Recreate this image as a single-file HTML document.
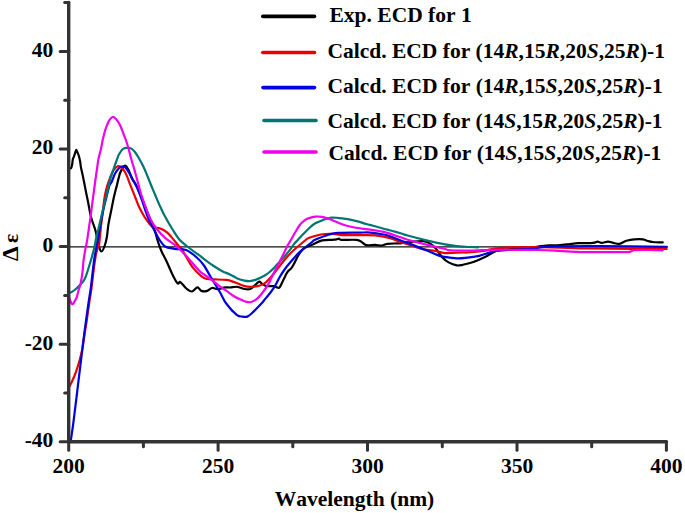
<!DOCTYPE html>
<html><head><meta charset="utf-8"><style>
html,body{margin:0;padding:0;background:#fff;width:685px;height:513px;overflow:hidden}
svg{display:block}
text{font-family:"Liberation Serif",serif;font-weight:bold;font-size:21.5px;fill:#000;font-kerning:none}
</style></head><body>
<svg width="685" height="513" viewBox="0 0 685 513">
<rect width="685" height="513" fill="#fff"/>
<line x1="68.7" y1="246.8" x2="668" y2="246.8" stroke="#111" stroke-width="1.2"/>
<g fill="none" stroke-width="2.2" stroke-linejoin="round" stroke-linecap="round">
<path d="M68.7,167.7 C69.1,167.8 70.4,168.9 71.0,168.3 C71.6,167.7 71.9,165.7 72.2,164.2 C72.5,162.7 72.5,160.8 72.8,159.5 C73.1,158.2 73.5,157.7 73.9,156.6 C74.3,155.5 74.7,154.2 75.1,153.1 C75.5,152.0 75.8,149.7 76.3,149.8 C76.8,149.9 77.5,152.5 78.0,153.7 C78.5,154.9 78.9,155.9 79.2,157.2 C79.5,158.5 79.8,159.7 80.1,161.3 C80.4,162.9 80.5,164.9 80.8,166.6 C81.1,168.2 81.3,169.0 81.8,171.2 C82.3,173.4 82.9,176.1 83.6,179.7 C84.3,183.3 85.5,189.3 86.2,193.0 C86.9,196.7 87.2,197.6 88.0,201.7 C88.8,205.8 89.9,212.8 91.1,217.3 C92.3,221.9 94.1,226.2 95.0,229.0 C95.9,231.8 95.7,231.2 96.3,234.0 C96.9,236.8 97.9,243.1 98.8,246.0 C99.7,248.9 100.5,251.5 101.5,251.5 C102.5,251.5 103.7,248.5 104.6,246.0 C105.5,243.5 106.3,240.2 106.9,236.7 C107.5,233.2 107.8,228.3 108.3,225.1 C108.8,221.9 109.3,219.9 109.8,217.3 C110.3,214.7 110.8,212.7 111.4,209.5 C112.1,206.3 113.0,201.2 113.7,198.0 C114.4,194.8 115.0,192.6 115.5,190.5 C116.0,188.4 116.3,187.8 116.8,185.7 C117.3,183.6 118.0,180.4 118.7,177.9 C119.4,175.4 119.9,172.9 121.0,170.9 C122.1,168.9 123.9,165.9 125.1,165.7 C126.3,165.5 127.1,167.5 128.3,169.6 C129.5,171.7 130.8,175.7 132.2,178.5 C133.6,181.3 135.2,183.1 136.8,186.5 C138.5,189.9 140.3,194.6 142.1,198.9 C143.9,203.2 145.4,207.3 147.5,212.5 C149.6,217.7 152.8,225.1 154.6,230.0 C156.3,234.9 156.8,238.2 158.0,241.8 C159.2,245.4 160.3,248.5 161.7,251.7 C163.1,254.9 164.7,257.3 166.4,261.0 C168.2,264.7 170.3,270.2 172.2,273.9 C174.0,277.6 176.1,281.9 177.5,283.3 C178.9,284.7 178.9,281.2 180.4,282.1 C181.9,283.0 184.4,286.9 186.3,288.5 C188.2,290.1 190.2,291.7 192.1,291.5 C193.9,291.3 195.8,287.5 197.4,287.4 C199.0,287.3 199.8,290.3 201.5,290.9 C203.2,291.5 205.6,291.4 207.3,290.9 C209.1,290.4 210.2,288.3 212.0,288.0 C213.8,287.7 215.7,289.2 217.8,289.1 C220.0,289.0 222.9,287.7 224.9,287.4 C226.9,287.1 227.9,287.6 230.0,287.5 C232.1,287.4 234.9,286.6 237.3,286.8 C239.7,287.1 242.4,288.6 244.6,289.0 C246.8,289.4 248.7,289.6 250.4,289.0 C252.1,288.4 253.3,286.6 254.8,285.4 C256.3,284.2 258.0,281.9 259.2,281.7 C260.4,281.4 260.9,283.2 262.1,283.9 C263.3,284.6 264.6,285.7 266.5,286.1 C268.4,286.5 272.0,285.9 273.8,286.1 C275.6,286.3 276.4,287.3 277.4,287.5 C278.4,287.7 278.7,288.6 279.6,287.4 C280.6,286.2 281.8,283.0 283.1,280.5 C284.4,278.0 285.9,274.4 287.2,272.4 C288.5,270.4 290.0,269.9 291.2,268.4 C292.4,266.9 293.3,265.2 294.3,263.3 C295.3,261.4 296.3,259.1 297.3,257.2 C298.3,255.3 299.2,253.7 300.4,252.2 C301.6,250.7 302.3,249.4 304.4,248.1 C306.4,246.8 309.8,245.7 312.7,244.4 C315.6,243.1 318.8,241.2 322.1,240.4 C325.4,239.6 330.2,240.0 332.6,239.8 C335.0,239.6 335.3,239.6 336.4,239.4 C337.5,239.2 338.1,238.5 339.0,238.6 C339.9,238.7 338.7,239.7 341.6,239.9 C344.5,240.1 353.1,239.5 356.5,239.9 C359.9,240.3 360.2,241.2 361.8,242.1 C363.4,243.0 364.0,244.6 366.2,245.1 C368.4,245.6 372.4,244.8 375.0,244.9 C377.6,245.0 379.9,245.7 382.0,245.5 C384.1,245.3 384.4,244.2 387.3,243.8 C390.2,243.4 395.7,243.6 399.5,243.3 C403.3,243.0 405.9,242.4 410.0,242.0 C414.1,241.6 420.5,240.7 424.0,241.1 C427.5,241.5 429.1,243.0 431.0,244.2 C432.9,245.4 433.8,246.2 435.7,248.4 C437.6,250.7 440.5,255.4 442.7,257.7 C444.9,260.0 446.2,261.1 448.6,262.4 C451.0,263.7 454.5,265.0 456.8,265.4 C459.1,265.8 459.8,265.4 462.6,264.8 C465.4,264.2 469.7,263.3 473.4,262.0 C477.1,260.7 481.1,258.9 485.0,257.0 C488.9,255.1 492.8,251.9 496.7,250.6 C500.6,249.3 503.9,249.8 508.4,249.4 C512.9,249.0 519.0,248.8 523.8,248.4 C528.6,248.0 532.8,247.3 537.0,246.8 C541.2,246.3 545.8,245.6 549.2,245.3 C552.6,245.1 554.1,245.5 557.4,245.3 C560.7,245.1 565.5,244.5 569.0,244.2 C572.5,243.8 574.4,243.4 578.4,243.2 C582.4,243.0 589.9,243.2 593.1,242.9 C596.3,242.6 596.0,241.6 597.5,241.6 C599.0,241.6 600.1,242.9 601.9,242.9 C603.6,242.9 606.1,241.6 608.0,241.6 C609.9,241.6 611.4,242.5 613.3,242.9 C615.2,243.3 617.2,244.2 619.4,243.9 C621.6,243.6 623.9,241.6 626.4,240.8 C628.9,240.1 631.5,239.6 634.3,239.4 C637.1,239.2 640.7,239.1 643.0,239.4 C645.3,239.7 646.7,240.7 648.3,241.1 C649.9,241.5 650.3,241.8 652.7,242.0 C655.1,242.2 661.0,242.3 662.7,242.4" stroke="#000000"/>
<path d="M68.8,387.5 C69.3,386.5 70.8,384.0 72.0,381.5 C73.2,379.0 74.5,376.1 75.7,372.7 C76.9,369.3 78.3,364.9 79.4,361.0 C80.5,357.1 81.5,353.5 82.3,349.3 C83.1,345.1 83.5,340.9 84.3,336.0 C85.0,331.1 86.0,325.5 86.8,320.0 C87.6,314.5 88.4,308.3 89.2,303.0 C90.0,297.7 90.7,293.7 91.5,288.0 C92.3,282.3 93.1,274.2 93.8,269.0 C94.5,263.8 94.9,260.3 95.5,257.0 C96.1,253.7 96.7,251.1 97.3,249.0 C97.9,246.9 98.5,248.5 99.1,244.5 C99.7,240.5 100.4,230.8 101.1,225.0 C101.8,219.2 102.4,214.7 103.0,210.0 C103.6,205.3 104.0,200.5 104.7,196.6 C105.4,192.7 106.1,189.6 107.0,186.5 C107.9,183.4 109.0,180.6 110.0,178.0 C111.0,175.4 112.3,172.5 113.2,170.8 C114.1,169.1 114.8,168.4 115.6,167.6 C116.4,166.8 117.2,166.4 117.9,166.2 C118.6,166.0 118.9,165.7 120.0,166.5 C121.1,167.3 123.2,169.4 124.4,171.2 C125.7,173.0 126.6,175.4 127.5,177.4 C128.4,179.4 128.5,180.5 129.7,183.4 C130.8,186.3 132.8,191.2 134.4,195.1 C136.0,199.0 137.2,203.1 139.0,206.8 C140.8,210.5 142.7,214.1 144.9,217.5 C147.2,220.9 150.0,225.2 152.5,227.0 C155.0,228.8 157.4,227.3 159.8,228.2 C162.2,229.1 164.7,230.5 167.0,232.4 C169.3,234.3 171.4,237.1 173.4,239.4 C175.4,241.8 177.7,244.9 179.1,246.5 C180.5,248.1 180.0,246.4 181.6,248.8 C183.2,251.2 186.6,257.8 188.6,261.0 C190.6,264.2 191.2,265.6 193.3,268.1 C195.5,270.7 199.3,274.5 201.5,276.3 C203.7,278.1 204.5,278.5 206.7,279.0 C208.9,279.5 211.2,279.3 214.5,279.4 C217.8,279.5 223.6,279.6 226.2,279.8 C228.8,280.0 228.2,280.0 230.0,280.6 C231.8,281.2 234.9,282.3 237.3,283.2 C239.7,284.1 242.4,285.5 244.6,286.1 C246.8,286.7 248.2,286.8 250.4,286.8 C252.6,286.8 255.5,286.6 257.7,286.1 C259.9,285.6 261.9,284.9 263.6,283.9 C265.3,282.9 266.3,281.9 268.0,280.2 C269.7,278.5 271.8,276.1 273.8,273.7 C275.8,271.2 277.9,268.3 280.1,265.5 C282.3,262.7 284.7,259.6 287.2,256.8 C289.7,254.0 292.4,251.4 295.3,248.8 C298.2,246.2 302.1,242.8 304.4,241.0 C306.7,239.2 306.4,238.9 309.2,237.8 C311.9,236.7 317.0,235.2 320.9,234.5 C324.8,233.8 329.0,233.8 332.6,233.9 C336.2,234.0 338.2,234.9 342.5,235.1 C346.8,235.3 352.9,235.1 358.3,235.1 C363.7,235.1 369.7,234.8 375.0,235.3 C380.3,235.8 385.7,236.9 390.1,238.1 C394.5,239.3 398.4,241.5 401.3,242.5 C404.2,243.5 403.8,243.0 407.6,244.2 C411.4,245.3 419.4,248.3 424.0,249.4 C428.6,250.5 431.5,250.2 435.0,250.8 C438.5,251.4 440.5,252.8 445.1,253.1 C449.7,253.4 458.9,252.6 462.6,252.5 C466.3,252.4 463.8,252.7 467.5,252.4 C471.2,252.1 480.5,251.2 485.0,250.6 C489.5,250.0 490.1,249.1 494.6,248.6 C499.1,248.1 503.9,247.6 512.0,247.3 C520.1,247.1 533.3,247.0 543.0,247.1 C552.7,247.2 562.9,247.8 570.0,248.0 C577.1,248.2 574.9,248.4 585.4,248.5 C595.9,248.6 619.2,248.7 632.8,248.8 C646.3,248.9 661.1,249.0 666.7,249.0" stroke="#e80000"/>
<path d="M70.6,442.0 C71.0,439.0 72.2,431.8 73.2,424.0 C74.2,416.2 75.9,402.3 76.8,395.0 C77.7,387.7 77.8,386.2 78.6,380.0 C79.3,373.8 80.5,364.8 81.3,358.0 C82.1,351.2 82.8,345.3 83.6,339.0 C84.4,332.7 85.3,326.0 86.1,320.0 C86.9,314.0 87.7,308.3 88.5,303.0 C89.3,297.7 90.0,293.7 90.8,288.0 C91.5,282.3 92.4,274.2 93.0,269.0 C93.6,263.8 94.0,260.7 94.6,257.0 C95.2,253.3 95.8,250.2 96.4,246.8 C97.0,243.4 97.8,240.3 98.4,236.7 C99.1,233.1 99.5,229.4 100.3,225.0 C101.1,220.6 102.3,214.7 103.3,210.0 C104.3,205.3 105.5,201.1 106.5,197.0 C107.5,192.9 108.5,188.2 109.4,185.7 C110.3,183.2 110.8,183.8 111.7,181.8 C112.6,179.9 113.8,176.1 114.8,174.0 C115.8,171.9 116.9,170.6 117.9,169.4 C118.9,168.2 119.8,167.0 121.0,166.7 C122.2,166.3 123.8,166.3 125.1,167.3 C126.4,168.3 127.8,170.8 129.0,172.7 C130.2,174.6 130.9,176.6 132.2,179.0 C133.5,181.4 135.2,183.6 136.7,186.9 C138.2,190.2 140.0,194.9 141.4,198.6 C142.8,202.3 143.7,205.8 144.9,209.1 C146.1,212.4 146.8,215.0 148.4,218.5 C150.0,222.0 152.5,226.7 154.3,230.2 C156.1,233.7 157.4,236.7 159.2,239.4 C161.0,242.1 162.6,244.9 165.1,246.5 C167.6,248.1 170.9,248.2 174.4,248.8 C177.9,249.4 182.4,248.6 186.1,250.0 C189.8,251.4 193.9,255.0 196.8,257.5 C199.7,260.0 201.3,261.8 203.6,265.0 C205.9,268.2 208.6,273.4 210.6,276.7 C212.6,279.9 213.7,281.9 215.3,284.5 C216.9,287.1 218.2,289.1 220.0,292.3 C221.8,295.5 223.4,299.7 226.2,303.5 C229.0,307.3 234.0,312.7 236.7,314.9 C239.4,317.1 240.8,316.3 242.5,316.6 C244.2,316.9 245.7,317.1 247.2,316.6 C248.7,316.1 249.0,315.9 251.3,313.8 C253.6,311.7 258.9,306.2 261.2,303.8 C263.5,301.4 263.4,301.1 265.0,299.1 C266.6,297.1 269.2,294.3 270.9,292.0 C272.6,289.7 273.9,287.9 275.3,285.5 C276.8,283.1 278.1,279.9 279.6,277.3 C281.1,274.7 282.3,272.7 284.2,270.0 C286.1,267.3 288.8,264.1 291.2,261.3 C293.6,258.5 296.0,255.7 298.3,253.4 C300.6,251.1 302.7,249.4 305.0,247.5 C307.3,245.6 310.3,243.3 312.0,242.0 C313.7,240.7 312.2,241.1 315.1,239.8 C318.0,238.6 325.3,235.7 329.1,234.5 C332.9,233.3 333.0,233.2 338.1,232.9 C343.2,232.6 354.6,232.7 360.0,232.6 C365.4,232.5 366.6,232.3 370.6,232.6 C374.6,232.9 380.6,233.9 383.8,234.5 C387.1,235.1 387.2,235.3 390.1,236.3 C393.0,237.3 398.4,239.6 401.3,240.7 C404.2,241.8 403.2,241.2 407.6,242.9 C412.0,244.6 422.9,249.0 427.5,250.8 C432.1,252.7 432.5,253.0 435.0,254.0 C437.5,255.0 439.1,255.9 442.7,256.6 C446.3,257.3 452.7,258.1 456.8,258.3 C460.9,258.5 463.8,258.0 467.5,257.6 C471.2,257.2 474.7,257.0 479.2,255.9 C483.7,254.8 489.5,252.2 494.4,251.2 C499.3,250.2 502.8,250.3 508.4,250.0 C514.0,249.7 521.5,249.8 528.3,249.2 C535.1,248.6 537.2,247.1 549.2,246.6 C561.2,246.1 580.4,246.2 600.0,246.2 C619.6,246.2 655.6,246.7 666.7,246.8" stroke="#0000e0"/>
<path d="M69.4,293.0 C70.2,292.6 72.3,291.8 74.0,290.5 C75.7,289.2 77.7,287.5 79.5,285.5 C81.3,283.5 83.3,282.1 85.0,278.5 C86.7,274.9 88.6,267.7 89.8,264.0 C91.0,260.3 91.3,259.1 92.1,256.2 C92.9,253.3 93.8,250.1 94.5,246.8 C95.2,243.6 95.8,239.5 96.4,236.7 C97.0,233.9 97.5,232.2 98.1,230.0 C98.6,227.8 98.8,227.3 99.7,223.5 C100.6,219.7 102.6,211.2 103.6,207.1 C104.6,203.0 104.8,201.9 105.5,199.0 C106.2,196.1 107.0,192.8 107.8,189.6 C108.6,186.3 109.2,182.8 110.1,179.5 C111.0,176.2 112.1,173.3 113.2,170.1 C114.3,166.8 115.8,162.6 116.8,160.0 C117.8,157.4 117.9,156.3 118.9,154.5 C119.9,152.7 121.5,150.1 122.8,149.0 C124.1,147.9 125.3,147.9 126.7,147.8 C128.1,147.7 130.0,147.8 131.4,148.6 C132.8,149.4 134.0,150.8 135.3,152.5 C136.6,154.2 137.9,156.4 139.2,158.7 C140.5,160.9 141.8,163.3 143.1,166.0 C144.4,168.7 145.7,171.9 147.0,175.0 C148.3,178.1 149.5,181.2 150.8,184.5 C152.1,187.8 153.6,191.2 155.0,194.5 C156.4,197.8 157.4,200.5 159.0,204.0 C160.6,207.5 162.3,211.4 164.5,215.5 C166.7,219.6 169.5,224.5 172.0,228.5 C174.5,232.5 176.8,236.5 179.3,239.5 C181.9,242.5 184.0,243.9 187.3,246.5 C190.6,249.1 194.9,252.1 199.1,255.2 C203.2,258.3 208.3,262.3 212.2,265.0 C216.1,267.7 219.3,269.6 222.3,271.2 C225.3,272.8 227.5,273.2 230.0,274.4 C232.5,275.6 234.9,277.4 237.3,278.4 C239.7,279.4 242.5,280.2 244.6,280.6 C246.7,281.1 247.9,281.2 249.7,281.1 C251.5,281.0 253.6,280.5 255.5,279.9 C257.4,279.3 259.6,278.2 261.4,277.3 C263.2,276.4 264.9,275.5 266.5,274.4 C268.1,273.3 269.4,272.1 270.9,270.8 C272.4,269.5 274.0,267.8 275.3,266.4 C276.6,265.0 277.4,264.3 278.9,262.7 C280.4,261.1 282.7,258.6 284.4,256.6 C286.1,254.6 287.7,252.8 289.3,250.7 C290.9,248.6 292.8,245.7 294.2,243.9 C295.6,242.1 296.2,241.7 297.8,240.0 C299.4,238.3 301.8,235.6 303.8,233.5 C305.8,231.4 307.7,229.4 309.6,227.7 C311.5,226.0 313.3,224.5 315.4,223.3 C317.5,222.1 320.3,221.1 322.0,220.4 C323.7,219.7 324.1,219.5 325.7,219.0 C327.3,218.5 329.6,217.8 331.5,217.6 C333.4,217.4 335.1,217.6 337.3,217.8 C339.6,218.0 343.2,218.6 345.0,218.8 C346.8,219.0 345.8,218.8 347.9,219.2 C350.0,219.6 354.4,220.6 357.5,221.4 C360.6,222.2 363.4,223.2 366.3,224.0 C369.2,224.8 372.1,225.4 375.0,226.2 C377.9,227.0 380.9,228.0 383.8,228.8 C386.7,229.6 389.6,230.2 392.5,231.0 C395.4,231.8 398.8,232.8 401.3,233.5 C403.8,234.2 403.2,234.3 407.6,235.5 C412.0,236.7 421.2,239.1 427.5,240.6 C433.8,242.1 440.2,243.4 445.1,244.3 C450.0,245.2 452.9,245.7 456.8,246.1 C460.7,246.5 465.0,246.8 468.5,247.0 C472.0,247.2 476.4,247.2 478.0,247.3" stroke="#007672"/>
<path d="M68.8,294.7 C69.0,295.6 69.3,298.4 69.9,300.0 C70.5,301.6 71.8,304.1 72.6,304.3 C73.4,304.5 74.0,302.3 74.7,301.1 C75.4,299.9 76.3,298.7 76.9,296.9 C77.5,295.1 77.9,292.7 78.5,290.5 C79.1,288.3 79.9,286.8 80.6,283.7 C81.3,280.6 82.0,275.9 82.5,272.0 C83.0,268.1 83.1,264.0 83.6,260.1 C84.1,256.2 84.9,251.7 85.5,248.4 C86.1,245.2 86.5,244.3 87.1,240.6 C87.7,236.9 88.7,229.6 89.2,226.0 C89.7,222.4 89.9,221.8 90.3,219.0 C90.7,216.2 91.1,212.7 91.5,209.5 C91.9,206.3 92.2,203.5 92.7,200.1 C93.2,196.7 93.7,193.0 94.2,189.0 C94.7,185.0 95.4,179.9 95.9,176.3 C96.4,172.7 96.8,170.4 97.2,167.5 C97.6,164.6 97.9,161.7 98.5,158.8 C99.1,155.9 100.0,153.1 100.7,150.0 C101.4,146.9 102.2,142.5 102.7,140.0 C103.2,137.5 103.5,136.8 103.9,135.0 C104.4,133.2 104.8,131.2 105.4,129.5 C106.0,127.8 106.6,126.2 107.3,124.6 C108.0,123.0 108.7,121.0 109.7,119.7 C110.7,118.4 111.9,116.8 113.1,116.8 C114.2,116.8 115.5,118.5 116.6,119.7 C117.7,120.9 118.6,122.5 119.5,124.1 C120.4,125.7 121.2,127.7 121.9,129.5 C122.6,131.3 123.2,133.2 123.9,135.0 C124.6,136.8 125.2,137.9 125.9,140.0 C126.6,142.1 127.4,144.6 128.3,147.8 C129.2,151.1 130.4,155.9 131.4,159.5 C132.4,163.1 133.3,165.8 134.4,169.6 C135.5,173.4 136.7,178.2 137.9,182.5 C139.1,186.8 140.1,191.0 141.4,195.1 C142.7,199.2 144.1,202.9 145.5,206.8 C146.9,210.7 148.2,214.7 150.1,218.5 C152.0,222.3 154.5,226.2 157.2,229.5 C159.8,232.8 162.7,235.8 166.0,238.6 C169.3,241.4 173.0,243.2 176.8,246.5 C180.6,249.8 184.9,254.7 188.6,258.7 C192.3,262.7 196.7,267.9 199.1,270.4 C201.5,272.9 200.9,272.2 202.8,273.6 C204.7,275.0 208.0,277.1 210.6,279.0 C213.2,280.9 215.8,283.4 218.4,285.3 C221.0,287.2 223.6,288.9 226.2,290.7 C228.8,292.5 231.4,294.6 234.0,296.2 C236.6,297.8 239.7,299.2 241.8,300.1 C243.9,301.1 245.0,301.6 246.5,301.9 C248.0,302.2 249.3,302.5 251.0,302.0 C252.7,301.5 254.9,300.4 256.6,299.1 C258.4,297.8 259.5,296.5 261.5,294.0 C263.5,291.5 266.6,287.2 268.5,283.9 C270.4,280.6 271.3,277.7 273.0,274.4 C274.7,271.1 276.8,267.2 278.5,263.9 C280.2,260.5 281.8,257.4 283.3,254.3 C284.8,251.2 286.4,247.8 287.7,245.3 C289.0,242.8 290.0,241.6 291.2,239.5 C292.4,237.4 293.6,235.1 295.0,232.8 C296.4,230.5 297.8,227.6 299.4,225.5 C301.0,223.4 302.8,221.7 304.5,220.4 C306.2,219.1 307.8,218.5 309.6,217.9 C311.4,217.3 313.3,216.8 315.4,216.6 C317.5,216.4 320.1,216.5 322.0,216.8 C323.9,217.1 325.3,217.6 327.1,218.2 C328.9,218.8 331.1,219.6 333.0,220.4 C334.9,221.2 336.8,222.2 338.8,223.0 C340.8,223.8 343.3,224.7 345.0,225.2 C346.7,225.7 346.7,225.7 348.8,226.2 C350.9,226.7 353.9,227.4 357.5,228.0 C361.1,228.6 366.2,229.0 370.6,229.7 C375.0,230.3 378.7,230.6 383.8,231.9 C388.9,233.2 397.3,236.2 401.3,237.5 C405.3,238.8 403.2,238.5 407.6,239.7 C412.0,240.9 421.2,243.3 427.5,244.9 C433.8,246.5 441.4,248.1 445.1,249.0 C448.9,249.9 445.3,250.1 450.0,250.4 C454.7,250.7 466.4,250.7 473.4,250.6 C480.4,250.5 484.2,249.9 492.0,249.8 C499.8,249.7 512.4,249.8 520.0,249.8 C527.6,249.8 531.7,249.9 537.5,250.0 C543.3,250.1 548.6,250.3 555.0,250.6 C561.4,250.9 568.5,251.6 576.0,251.8 C583.5,252.1 591.5,252.1 600.0,252.1 C608.5,252.1 621.6,252.4 627.3,252.1 C633.0,251.8 630.5,250.5 634.3,250.2 C638.1,249.8 645.3,250.0 650.0,250.0 C654.7,250.0 660.6,250.2 662.7,250.3" stroke="#f000ee"/>
</g>
<g stroke="#333333" stroke-width="3.4" stroke-linecap="round">
<line x1="68.7" y1="2.5" x2="68.7" y2="441.8"/>
<line x1="68.7" y1="441.8" x2="666.4" y2="441.8"/>
</g>
<g stroke="#333333" stroke-width="3" stroke-linecap="round">
<line x1="68.7" y1="441.8" x2="68.7" y2="450.3"/><line x1="143.4" y1="441.8" x2="143.4" y2="446.8"/><line x1="218.1" y1="441.8" x2="218.1" y2="450.3"/><line x1="292.8" y1="441.8" x2="292.8" y2="446.8"/><line x1="367.5" y1="441.8" x2="367.5" y2="450.3"/><line x1="442.3" y1="441.8" x2="442.3" y2="446.8"/><line x1="517.0" y1="441.8" x2="517.0" y2="450.3"/><line x1="591.7" y1="441.8" x2="591.7" y2="446.8"/><line x1="666.4" y1="441.8" x2="666.4" y2="450.3"/><line x1="68.7" y1="441.8" x2="60.2" y2="441.8"/><line x1="68.7" y1="393.0" x2="64.7" y2="393.0"/><line x1="68.7" y1="344.2" x2="60.2" y2="344.2"/><line x1="68.7" y1="295.4" x2="64.7" y2="295.4"/><line x1="68.7" y1="246.6" x2="60.2" y2="246.6"/><line x1="68.7" y1="197.8" x2="64.7" y2="197.8"/><line x1="68.7" y1="149.0" x2="60.2" y2="149.0"/><line x1="68.7" y1="100.2" x2="64.7" y2="100.2"/><line x1="68.7" y1="51.4" x2="60.2" y2="51.4"/><line x1="68.7" y1="2.6" x2="64.7" y2="2.6"/>
</g>
<text x="68.7" y="472.6" text-anchor="middle">200</text><text x="218.1" y="472.6" text-anchor="middle">250</text><text x="367.5" y="472.6" text-anchor="middle">300</text><text x="517.0" y="472.6" text-anchor="middle">350</text><text x="666.4" y="472.6" text-anchor="middle">400</text>
<text x="53.3" y="447.2" text-anchor="end">-40</text><text x="53.3" y="349.6" text-anchor="end">-20</text><text x="53.3" y="252.0" text-anchor="end">0</text><text x="53.3" y="154.4" text-anchor="end">20</text><text x="53.3" y="56.8" text-anchor="end">40</text>
<text x="274.8" y="505.5">Wavelength (nm)</text>
<text transform="translate(18.2,261) rotate(-90)" style="font-size:23.5px">&#916;</text><text transform="translate(18.2,243) rotate(-90)">&#949;</text>
<line x1="262.8" y1="16.4" x2="314.5" y2="16.4" stroke="#000000" stroke-width="3.6" stroke-linecap="round"/><text x="329.5" y="21.8">Exp. ECD for 1</text><line x1="262.8" y1="52.5" x2="314.5" y2="52.5" stroke="#e80000" stroke-width="3.6" stroke-linecap="round"/><text x="327.5" y="58.0">Calcd. ECD for (14<tspan font-style="italic">R</tspan>,15<tspan font-style="italic">R</tspan>,20<tspan font-style="italic">S</tspan>,25<tspan font-style="italic">R</tspan>)-1</text><line x1="263.0" y1="87.6" x2="314.5" y2="87.6" stroke="#0000e0" stroke-width="3.6" stroke-linecap="round"/><text x="327.6" y="93.2">Calcd. ECD for (14<tspan font-style="italic">R</tspan>,15<tspan font-style="italic">S</tspan>,20<tspan font-style="italic">S</tspan>,25<tspan font-style="italic">R</tspan>)-1</text><line x1="264.0" y1="120.5" x2="316.0" y2="120.5" stroke="#007672" stroke-width="3.6" stroke-linecap="round"/><text x="327.5" y="128.4">Calcd. ECD for (14<tspan font-style="italic">S</tspan>,15<tspan font-style="italic">R</tspan>,20<tspan font-style="italic">S</tspan>,25<tspan font-style="italic">R</tspan>)-1</text><line x1="264.0" y1="152.0" x2="316.0" y2="152.0" stroke="#f000ee" stroke-width="3.6" stroke-linecap="round"/><text x="328.6" y="159.8">Calcd. ECD for (14<tspan font-style="italic">S</tspan>,15<tspan font-style="italic">S</tspan>,20<tspan font-style="italic">S</tspan>,25<tspan font-style="italic">R</tspan>)-1</text>
</svg>
</body></html>
